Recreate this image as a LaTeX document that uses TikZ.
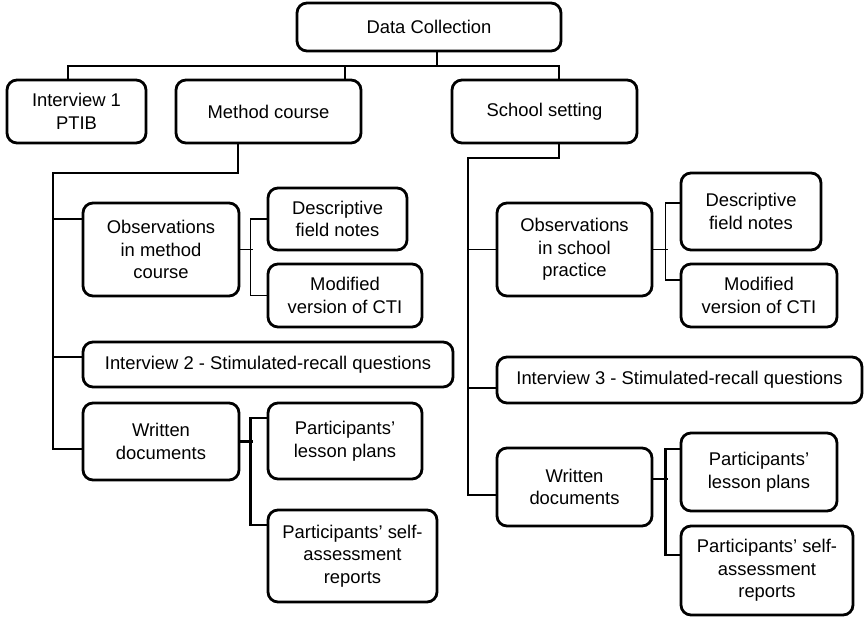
\documentclass[tikz,border=0pt]{standalone}
\usepackage{fontspec}
\setmainfont{Liberation Sans}
\usepackage{tikz}
\usetikzlibrary{positioning, calc}

\begin{document}
\begin{tikzpicture}[x=1pt,y=-1pt,
		box/.style={draw,line width=2.8pt,rounded corners=10pt,align=center,inner sep=2pt,
			font=\fontsize{18.4}{22.5}\selectfont},
		link/.style={line width=1.2pt},
		boldlink/.style={line width=2.3pt}]
	\useasboundingbox (0,0) rectangle (864,617);
	% top level
	\node[box,minimum width=264pt,minimum height=48pt] (dc) at (429,27) {Data Collection};
	\node[box,minimum width=139pt,minimum height=63pt] (iv1) at (76.5,111.5) {Interview 1\\PTIB};
	\node[box,minimum width=185pt,minimum height=63pt] (mc) at (268.5,111.5) {Method course};
	\node[box,minimum width=185pt,minimum height=63pt] (ss) at (544.5,111.5) {School setting};
	% method course
	\node[box,minimum width=156pt,minimum height=93pt] (obsm) at (161,249.5) {Observations\\in method\\course};
	\node[box,minimum width=139pt,minimum height=62pt] (dfnm) at (337.5,219) {Descriptive\\field notes};
	\node[box,minimum width=154pt,minimum height=63pt] (mvcm) at (345,295.5) {Modified\\version of CTI};
	\node[box,minimum width=370pt,minimum height=45pt] (iv2) at (268,364.5) {Interview 2 - Stimulated-recall questions};
	\node[box,minimum width=156pt,minimum height=77pt] (wdm) at (161,441.5) {Written\\documents};
	\node[box,minimum width=154pt,minimum height=76pt] (lpm) at (345,441) {Participants’\\lesson plans};
	\node[box,minimum width=169pt,minimum height=92pt] (sam) at (352.5,556) {Participants’ self-\\assessment\\reports};
	% school setting
	\node[box,minimum width=155pt,minimum height=93pt] (obss) at (574.5,249.5) {Observations\\in school\\practice};
	\node[box,minimum width=140pt,minimum height=77pt] (dfns) at (751,211.5) {Descriptive\\field notes};
	\node[box,minimum width=156pt,minimum height=63pt] (mvcs) at (759,295.5) {Modified\\version of CTI};
	\node[box,minimum width=365pt,minimum height=46pt] (iv3) at (679.5,380) {Interview 3 - Stimulated-recall questions};
	\node[box,minimum width=155pt,minimum height=78pt] (wds) at (574.5,487) {Written\\documents};
	\node[box,minimum width=156pt,minimum height=78pt] (lps) at (759,472) {Participants’\\lesson plans};
	\node[box,minimum width=172pt,minimum height=89pt] (sas) at (767,570.5) {Participants’ self-\\assessment\\reports};

	\coordinate (busL) at (68,66);
	\coordinate (busR) at (559,66);
	\coordinate (sL) at (53,173);
	\coordinate (sR) at (468,158);

	\draw[link] ([xshift=8pt]dc.south) -- ([xshift=8pt]dc.south |- busL);
	\draw[link] ([xshift=-8.5pt]iv1.north) |- (busR) -- ([xshift=14.5pt]ss.north);
	\draw[link] ([xshift=76.5pt]mc.north) -- ++(0,14pt);

	\draw[link] ([xshift=-30.5pt]mc.south) |- (sL) |- ([yshift=-7.5pt]wdm.west);
	\draw[link] ([yshift=30.5pt]obsm.west) -- ++(-30pt,0);
	\draw[link] ([yshift=7.5pt]iv2.west) -- ++(-30pt,0);
	\draw[link] (obsm.east) -- ++(13pt,0);
	\draw[link] (dfnm.west) -- ++(-16pt,0) |- (mvcm.west);
	\draw[boldlink] (wdm.east) -- ++(13pt,0);
	\draw[boldlink] ([yshift=23pt]lpm.west) -- ++(-16pt,0) |- ([yshift=31pt]sam.west);

	\draw[link] ([xshift=14.5pt]ss.south) |- (sR) |- ([yshift=-8pt]wds.west);
	\draw[link] (obss.west) -- ++(-29pt,0);
	\draw[link] ([yshift=-8pt]iv3.west) -- ++(-29pt,0);
	\draw[link] (obss.east) -- ++(15pt,0);
	\draw[link] ([yshift=8.5pt]dfns.west) -- ++(-14pt,0) |- ([yshift=15.5pt]mvcs.west);
	\draw[boldlink] ([yshift=8pt]wds.east) -- ++(15pt,0);
	\draw[boldlink] ([yshift=23pt]lps.west) -- ++(-14pt,0) |- ([yshift=15.5pt]sas.west);
\end{tikzpicture}
\end{document}
